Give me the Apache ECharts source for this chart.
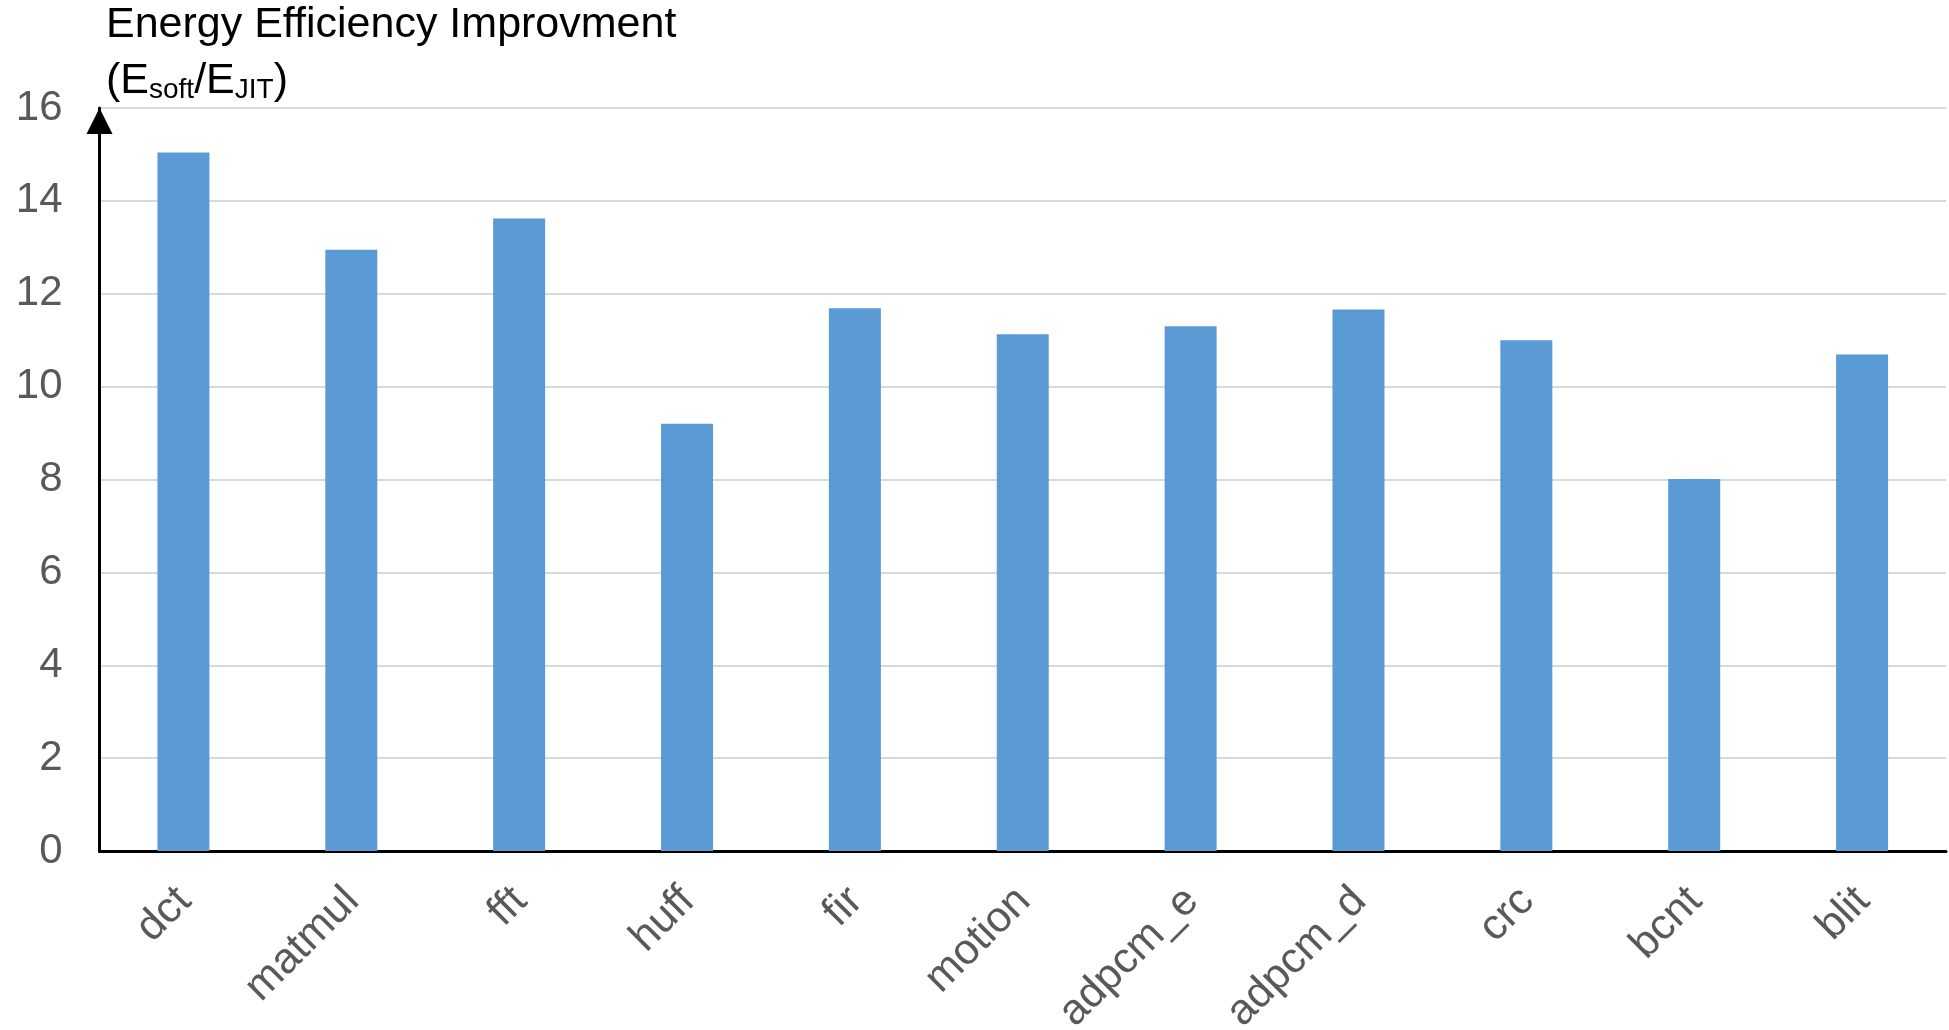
<!DOCTYPE html>
<html>
<head>
<meta charset="utf-8">
<style>
  html, body { margin: 0; padding: 0; background: #fff; }
  #chart { width: 1949px; height: 1030px; }
</style>
<script src="https://cdn.jsdelivr.net/npm/echarts@6/dist/echarts.min.js"></script>
</head>
<body>
<div id="chart"></div>
<script>
var categories = ['dct', 'matmul', 'fft', 'huff', 'fir', 'motion', 'adpcm_e', 'adpcm_d', 'crc', 'bcnt', 'blit'];
var improvement = [15.04, 12.95, 13.62, 9.2, 11.69, 11.13, 11.3, 11.66, 11.0, 8.01, 10.69];
var yTicks = [0, 2, 4, 6, 8, 10, 12, 14, 16];

var myChart = echarts.init(document.getElementById('chart'));
var labelFont = 'Liberation Sans, Arial, sans-serif';

var option = {
  animation: false,
  title: {
    text: 'Energy Efficiency Improvment\n{m|(E}{s|soft}{m|/E}{s|JIT}{m|)}',
    left: 106,
    top: -3,
    padding: 0,
    textStyle: {
      fontFamily: labelFont,
      fontSize: 43,
      fontWeight: 'normal',
      color: '#000',
      lineHeight: 56,
      rich: {
        m: { fontFamily: labelFont, fontSize: 43, color: '#000', lineHeight: 56 },
        s: { fontFamily: labelFont, fontSize: 28, color: '#000', padding: [18, 0, 0, 0] }
      }
    }
  },
  grid: {
    left: 99.5,
    right: 3,
    top: 108,
    bottom: 179,
    containLabel: false,
    outerBoundsMode: 'none'
  },
  xAxis: {
    type: 'category',
    data: categories,
    axisTick: { show: false },
    axisLine: {
      lineStyle: { color: '#000', width: 3 }
    },
    axisLabel: {
      interval: 0,
      rotate: 45,
      margin: 14,
      align: 'right',
      verticalAlign: 'top',
      padding: [0, 20, 0, 0],
      color: '#595959',
      fontFamily: labelFont,
      fontSize: 43
    }
  },
  yAxis: {
    type: 'value',
    min: yTicks[0],
    max: yTicks[yTicks.length - 1],
    interval: 2,
    axisTick: { show: false },
    axisLine: {
      show: true,
      symbol: ['none', 'triangle'],
      symbolSize: [26, 26],
      symbolOffset: [0, -13],
      lineStyle: { color: '#000', width: 3 }
    },
    axisLabel: {
      margin: 37,
      color: '#595959',
      fontFamily: labelFont,
      fontSize: 42
    },
    splitLine: {
      show: true,
      lineStyle: { color: '#d9d9d9', width: 2 }
    }
  },
  series: [
    {
      name: 'Energy Efficiency Improvment',
      type: 'bar',
      data: improvement,
      barWidth: 52,
      itemStyle: { color: '#5B9BD5' }
    }
  ]
};

myChart.setOption(option);
window.addEventListener('resize', function () {
  myChart.resize();
});
</script>
</body>
</html>
